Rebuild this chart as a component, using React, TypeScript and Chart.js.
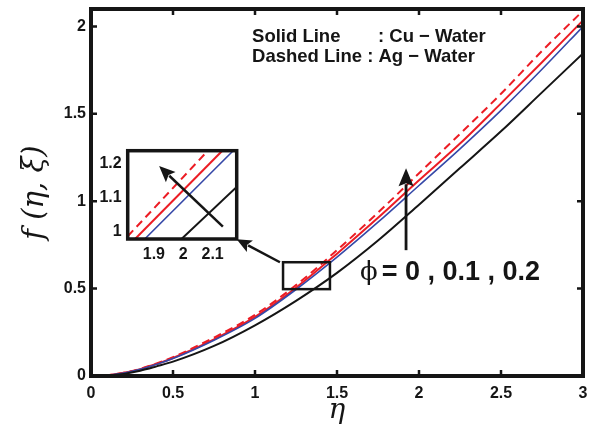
import React, { useEffect, useRef } from "react";
import { Chart, registerables } from "chart.js";
Chart.register(...registerables);

// ---------- main chart data ----------
const ETA = [0, 0.1, 0.2, 0.3, 0.4, 0.5, 0.75, 1, 1.25, 1.5, 1.75, 2, 2.25, 2.5, 2.75, 3];
const F_BASE = [0, 0.003, 0.012, 0.03, 0.055, 0.082, 0.172, 0.29, 0.43, 0.59, 0.775, 0.98, 1.19, 1.4, 1.623, 1.846];
const F_CU_01 = [0, 0.004, 0.017, 0.038, 0.067, 0.1, 0.205, 0.33, 0.495, 0.68, 0.88, 1.09, 1.3, 1.52, 1.755, 2.0];
const F_CU_02 = [0, 0.004, 0.018, 0.039, 0.069, 0.103, 0.21, 0.338, 0.505, 0.7, 0.905, 1.12, 1.33, 1.56, 1.795, 2.035];
const F_AG_02 = [0, 0.0045, 0.019, 0.041, 0.072, 0.108, 0.22, 0.35, 0.52, 0.72, 0.935, 1.16, 1.385, 1.615, 1.86, 2.09];

const X_TICKS = [0, 0.5, 1, 1.5, 2, 2.5, 3];
const Y_TICKS = [0, 0.5, 1, 1.5, 2];
const X_RANGE = [0, 3];
const Y_RANGE = [0, 2.1];

const X_TITLE = "η";
const Y_TITLE = "f (η, ξ)";
const LEGEND_1A = "Solid Line";
const LEGEND_1B = ": Cu − Water";
const LEGEND_2 = "Dashed Line : Ag − Water";
const PHI_SYMBOL = "ϕ";
const PHI_VALUES = "= 0 , 0.1 , 0.2";

// annotation anchors (data units)
const LEGEND_X = 0.982;
const LEGEND_COLON_X = 1.75;
const LEGEND_Y1 = 1.914;
const LEGEND_Y2 = 1.794;
const PHI_X = 1.64;
const PHI_VAL_X = 1.773;
const PHI_Y = 0.551;
const ZOOM_BOX_X = [1.171, 1.457];
const ZOOM_BOX_Y = [0.497, 0.651];
const ZOOM_ARROW_FROM = [1.152, 0.651];
const ZOOM_ARROW_TO = [0.888, 0.783];
const PHI_ARROW_X = 1.921;
const PHI_ARROW_Y = [0.72, 1.189];

// ---------- inset data ----------
const INSET_X_TICKS = [1.9, 2, 2.1];
const INSET_Y_TICKS = [1, 1.1, 1.2];
const INSET_X_RANGE = [1.811, 2.182];
const INSET_Y_RANGE = [0.979, 1.237];
const INSET_AG_X = [1.811, 2.084];
const INSET_AG_Y = [0.987, 1.237];
const INSET_CU2_X = [1.836, 2.133];
const INSET_CU2_Y = [0.979, 1.237];
const INSET_CU1_X = [1.869, 2.17];
const INSET_CU1_Y = [0.979, 1.237];
const INSET_BASE_X = [1.994, 2.182];
const INSET_BASE_Y = [0.979, 1.131];
const INSET_ARROW_FROM = [2.135, 1.015];
const INSET_ARROW_TO = [1.918, 1.192];

const INK = "#151515";
const RED = "#ec1c24";
const BLUE = "#3548a8";
const SANS = "'Liberation Sans', Arial, sans-serif";
const SERIF = "'DejaVu Serif', serif";

function arrow(ctx: CanvasRenderingContext2D, x1: number, y1: number, x2: number, y2: number, lw: number, hl: number, hw: number) {
  const ang = Math.atan2(y2 - y1, x2 - x1);
  const bx = x2 - hl * Math.cos(ang);
  const by = y2 - hl * Math.sin(ang);
  ctx.lineWidth = lw;
  ctx.beginPath();
  ctx.moveTo(x1, y1);
  ctx.lineTo(bx + 2 * Math.cos(ang), by + 2 * Math.sin(ang));
  ctx.stroke();
  ctx.beginPath();
  ctx.moveTo(x2, y2);
  ctx.lineTo(bx + (hw / 2) * Math.sin(ang), by - (hw / 2) * Math.cos(ang));
  ctx.lineTo(bx + 3 * Math.cos(ang), by + 3 * Math.sin(ang));
  ctx.lineTo(bx - (hw / 2) * Math.sin(ang), by + (hw / 2) * Math.cos(ang));
  ctx.closePath();
  ctx.fill();
}

function pairs(xs: number[], ys: number[]) {
  return xs.map((x, i) => ({ x, y: ys[i] }));
}

const zeroPad = (s: any) => {
  s.paddingTop = 0;
  s.paddingBottom = 0;
  s.paddingLeft = 0;
  s.paddingRight = 0;
};

const mainDeco = {
  id: "mainDeco",
  afterDraw(chart: any) {
    const { ctx, chartArea: a, scales } = chart;
    const px = (v: number) => scales.x.getPixelForValue(v);
    const py = (v: number) => scales.y.getPixelForValue(v);
    ctx.save();
    ctx.strokeStyle = INK;
    ctx.fillStyle = INK;
    ctx.lineCap = "butt";
    // inward ticks
    ctx.lineWidth = 2.5;
    ctx.beginPath();
    for (const v of X_TICKS) {
      const X = px(v);
      ctx.moveTo(X, a.bottom);
      ctx.lineTo(X, a.bottom - 6);
      ctx.moveTo(X, a.top);
      ctx.lineTo(X, a.top + 6);
    }
    for (const v of Y_TICKS) {
      const Y = py(v);
      ctx.moveTo(a.left, Y);
      ctx.lineTo(a.left + 6, Y);
      ctx.moveTo(a.right, Y);
      ctx.lineTo(a.right - 6, Y);
    }
    ctx.stroke();
    // frame
    ctx.lineWidth = 4;
    ctx.strokeRect(a.left, a.top, a.right - a.left, a.bottom - a.top);

    // zoom box
    ctx.lineWidth = 2.5;
    ctx.strokeRect(px(ZOOM_BOX_X[0]), py(ZOOM_BOX_Y[1]), px(ZOOM_BOX_X[1]) - px(ZOOM_BOX_X[0]), py(ZOOM_BOX_Y[0]) - py(ZOOM_BOX_Y[1]));
    arrow(ctx, px(ZOOM_ARROW_FROM[0]), py(ZOOM_ARROW_FROM[1]), px(ZOOM_ARROW_TO[0]), py(ZOOM_ARROW_TO[1]), 2.5, 15, 13);
    // phi arrow
    arrow(ctx, px(PHI_ARROW_X), py(PHI_ARROW_Y[0]), px(PHI_ARROW_X), py(PHI_ARROW_Y[1]), 2.8, 18, 15);

    // legend texts
    ctx.textBaseline = "alphabetic";
    ctx.textAlign = "left";
    ctx.font = `bold 18.5px ${SANS}`;
    ctx.fillText(LEGEND_1A, px(LEGEND_X), py(LEGEND_Y1));
    ctx.fillText(LEGEND_1B, px(LEGEND_COLON_X), py(LEGEND_Y1));
    ctx.fillText(LEGEND_2, px(LEGEND_X), py(LEGEND_Y2));

    // phi label
    ctx.font = `26px ${SERIF}`;
    ctx.fillText(PHI_SYMBOL, px(PHI_X), py(PHI_Y));
    ctx.font = `bold 27px ${SANS}`;
    ctx.fillText(PHI_VALUES, px(PHI_VAL_X), py(PHI_Y));
    ctx.restore();
  },
};

const insetDeco = {
  id: "insetDeco",
  afterDraw(chart: any) {
    const { ctx, chartArea: a, scales } = chart;
    const px = (v: number) => scales.x.getPixelForValue(v);
    const py = (v: number) => scales.y.getPixelForValue(v);
    ctx.save();
    ctx.strokeStyle = INK;
    ctx.fillStyle = INK;
    arrow(ctx, px(INSET_ARROW_FROM[0]), py(INSET_ARROW_FROM[1]), px(INSET_ARROW_TO[0]), py(INSET_ARROW_TO[1]), 2.5, 16, 14);
    ctx.lineWidth = 3.5;
    ctx.strokeRect(a.left, a.top, a.right - a.left, a.bottom - a.top);
    ctx.restore();
  },
};

const tickFont = { family: SANS, size: 16, weight: "bold" as const };

export default function App() {
  const mainRef = useRef<HTMLCanvasElement>(null);
  const insetRef = useRef<HTMLCanvasElement>(null);

  useEffect(() => {
    const lineDs = (label: string, ys: number[], color: string, width: number, dash: number[] = []) => ({
      label,
      data: pairs(ETA, ys),
      borderColor: color,
      borderWidth: width,
      borderDash: dash,
      pointRadius: 0,
      fill: false,
      cubicInterpolationMode: "monotone" as const,
    });

    const main = new Chart(mainRef.current!, {
      type: "line",
      data: {
        datasets: [
          lineDs("φ = 0", F_BASE, INK, 2),
          lineDs("Cu φ = 0.1", F_CU_01, BLUE, 1.6),
          lineDs("Cu φ = 0.2", F_CU_02, RED, 2),
          lineDs("Ag φ = 0.2", F_AG_02, RED, 2, [8, 5]),
        ],
      },
      options: {
        responsive: false,
        animation: false,
        layout: { padding: { top: 9, right: 6, left: 0, bottom: 0 } },
        plugins: { legend: { display: false }, tooltip: { enabled: false } },
        scales: {
          x: {
            type: "linear",
            min: X_RANGE[0],
            max: X_RANGE[1],
            afterBuildTicks: (s: any) => {
              s.ticks = X_TICKS.map((v) => ({ value: v }));
            },
            afterFit: (s: any) => {
              s.height = 52;
              zeroPad(s);
            },
            grid: { display: false, drawTicks: false },
            border: { display: false },
            ticks: { font: tickFont, color: INK, padding: 8, maxRotation: 0, autoSkip: false, callback: (v: any) => String(v) },
            title: { display: true, text: X_TITLE, font: { family: SERIF, size: 28, style: "italic" }, color: INK, padding: { top: 0, bottom: 0 } },
          },
          y: {
            type: "linear",
            min: Y_RANGE[0],
            max: Y_RANGE[1],
            afterBuildTicks: (s: any) => {
              s.ticks = Y_TICKS.map((v) => ({ value: v }));
            },
            afterFit: (s: any) => {
              s.width = 91;
              zeroPad(s);
            },
            grid: { display: false, drawTicks: false },
            border: { display: false },
            ticks: { font: tickFont, color: INK, padding: 5, autoSkip: false, callback: (v: any) => String(v) },
            title: { display: true, text: Y_TITLE, font: { family: SERIF, size: 29, style: "italic" }, color: INK, padding: { top: 18, bottom: 0 } },
          },
        },
      },
      plugins: [mainDeco],
    });

    const insetDs = (label: string, xs: number[], ys: number[], color: string, width: number, dash: number[] = []) => ({
      label,
      data: pairs(xs, ys),
      borderColor: color,
      borderWidth: width,
      borderDash: dash,
      pointRadius: 0,
      fill: false,
    });

    const inset = new Chart(insetRef.current!, {
      type: "line",
      data: {
        datasets: [
          insetDs("φ = 0", INSET_BASE_X, INSET_BASE_Y, INK, 2),
          insetDs("Cu φ = 0.1", INSET_CU1_X, INSET_CU1_Y, BLUE, 1.6),
          insetDs("Cu φ = 0.2", INSET_CU2_X, INSET_CU2_Y, RED, 2),
          insetDs("Ag φ = 0.2", INSET_AG_X, INSET_AG_Y, RED, 2, [8, 5]),
        ],
      },
      options: {
        responsive: false,
        animation: false,
        layout: { padding: { top: 10.7, right: 13.3, left: 0, bottom: 0 } },
        plugins: { legend: { display: false }, tooltip: { enabled: false } },
        scales: {
          x: {
            type: "linear",
            min: INSET_X_RANGE[0],
            max: INSET_X_RANGE[1],
            afterBuildTicks: (s: any) => {
              s.ticks = INSET_X_TICKS.map((v) => ({ value: v }));
            },
            afterFit: (s: any) => {
              s.height = 36;
              zeroPad(s);
            },
            grid: { display: false, drawTicks: false },
            border: { display: false },
            ticks: { font: tickFont, color: INK, padding: 6, maxRotation: 0, autoSkip: false, callback: (v: any) => String(v) },
          },
          y: {
            type: "linear",
            min: INSET_Y_RANGE[0],
            max: INSET_Y_RANGE[1],
            afterBuildTicks: (s: any) => {
              s.ticks = INSET_Y_TICKS.map((v) => ({ value: v }));
            },
            afterFit: (s: any) => {
              s.width = 47.7;
              zeroPad(s);
            },
            grid: { display: false, drawTicks: false },
            border: { display: false },
            ticks: { font: tickFont, color: INK, padding: 6, autoSkip: false, callback: (v: any) => String(v) },
          },
        },
      },
      plugins: [insetDeco],
    });

    return () => {
      main.destroy();
      inset.destroy();
    };
  }, []);

  return (
    <div style={{ position: "absolute", left: 0, top: 0, width: 589, height: 428, background: "#fff", overflow: "hidden" }}>
      <canvas ref={mainRef} width={589} height={428} style={{ position: "absolute", left: 0, top: 0 }} />
      <canvas ref={insetRef} width={170} height={135} style={{ position: "absolute", left: 80, top: 140 }} />
    </div>
  );
}
